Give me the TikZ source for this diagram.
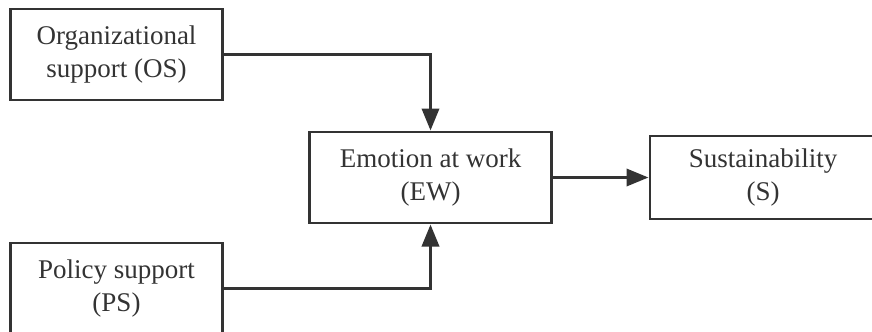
\documentclass[tikz,border=0pt]{standalone}
\usepackage{fontspec}
\setmainfont{Liberation Serif}
\usetikzlibrary{arrows.meta}
\definecolor{linegray}{HTML}{333333}
\begin{document}
\begin{tikzpicture}[
		x=0.025cm, y=-0.025cm,
		varbox/.style={draw=linegray, line width=2.1pt, text=linegray,
			align=center, minimum height=2.275cm, inner sep=0pt,
			font=\fontsize{19.2}{23.2}\selectfont},
		pathto/.style={draw=linegray, line width=2.1pt,
			-{Triangle[length=0.55cm, width=0.43cm]}}
	]
			\useasboundingbox (0,0) rectangle (872,331);
			\clip (0,0) rectangle (872,331);
			\node[varbox, minimum width=5.3cm] (os) at (116.5,54.5) {Organizational\\support (OS)};
			\node[varbox, minimum width=5.3cm] (ps) at (116.5,288.5) {Policy support\\(PS)};
			\node[varbox, minimum width=6.025cm] (ew) at (430.5,177.5) {Emotion at work\\(EW)};
			\node[varbox, minimum width=5.65cm, minimum height=2.075cm] (s) at (763,177.5) {Sustainability\\(S)};
				\draw[pathto] (os.east) -| (ew.north);
				\draw[pathto] (ps.east) -| (ew.south);
				\draw[pathto] (ew.east) -- (s.west);
		\end{tikzpicture}
\end{document}
